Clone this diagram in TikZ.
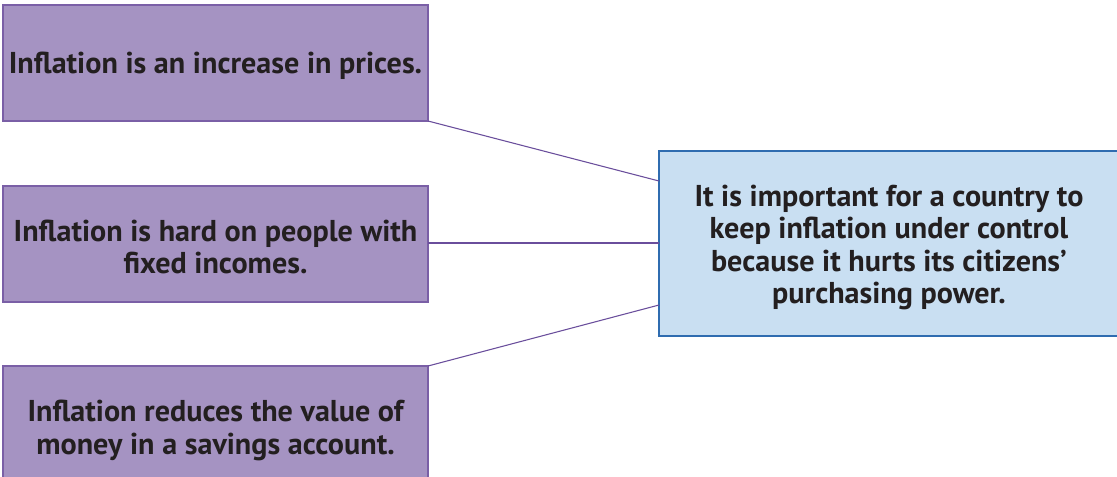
\documentclass[tikz,border=0pt]{standalone}
\usepackage{fontspec}
\setmainfont{PT Sans}
\definecolor{pfill}{HTML}{A593C2}
\definecolor{pline}{HTML}{7A5FA6}
\definecolor{bfill}{HTML}{C9DFF2}
\definecolor{bline}{HTML}{2F6CB0}
\definecolor{conn}{HTML}{6A4E9C}
\definecolor{txt}{HTML}{231F20}
\begin{document}
\begin{tikzpicture}[x=0.75pt,y=-0.75pt,
  pbox/.style={draw=pline,fill=pfill,line width=1pt},
  bbox/.style={draw=bline,fill=bfill,line width=1.2pt},
  lbl/.style={text=txt,font=\bfseries\fontsize{22.6}{24.4}\selectfont,align=center},
  conline/.style={draw=conn,line width=0.8pt}]
\useasboundingbox (0,0) rectangle (1117,476);
\clip (0,0) rectangle (1117,476);
\fill[white] (0,0) rectangle (1117,476);
\draw[pbox] (3,5) rectangle (428,121);
\draw[pbox] (3,186) rectangle (428,302);
\draw[pbox] (3,366) rectangle (428,490);
\draw[bbox] (659,151) rectangle (1130,336);
\node[lbl] (a) at (215.5,65.5) {Inflation is an increase in prices.};
\node[lbl] (b) at (215.5,247) {Inflation is hard on people with\\fixed incomes.};
\node[lbl] (c) at (215.5,430.5) {Inflation reduces the value of\\money in a savings account.};
\node[lbl] (d) at (889,247.5) {It is important for a country to\\keep inflation under control\\because it hurts its citizens’\\purchasing power.};
\coordinate (a1) at (428,121);
\coordinate (b1) at (428,243);
\coordinate (c1) at (428,366);
\coordinate (d1) at (659,181);
\coordinate (d2) at (659,243);
\coordinate (d3) at (659,305);
\draw[conline] (a1) -- (d1);
\draw[conline] (b1) -- (d2);
\draw[conline] (c1) -- (d3);
\end{tikzpicture}
\end{document}
